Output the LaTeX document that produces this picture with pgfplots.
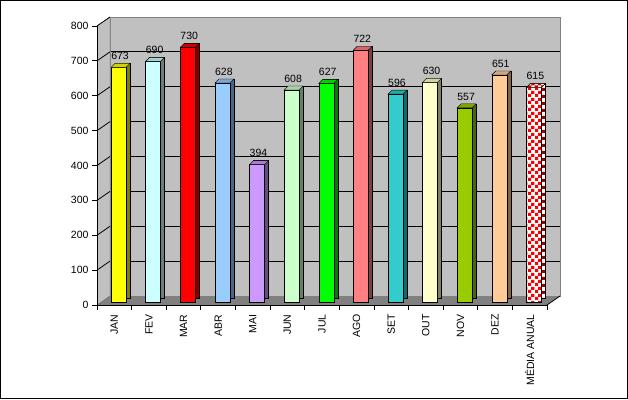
\documentclass[border=0pt]{standalone}
\usepackage{pgfplots}
\pgfplotsset{compat=1.18}
\usepackage{pgfplotstable}
\usepackage{fontspec}
\setmainfont{Liberation Sans}
\usetikzlibrary{patterns}

\pgfdeclarepatternformonly{checkers}{\pgfpointorigin}{\pgfqpoint{6.6pt}{6.6pt}}{\pgfqpoint{6.6pt}{6.6pt}}{%
\pgfpathrectangle{\pgfpointorigin}{\pgfqpoint{3.3pt}{3.3pt}}%
\pgfpathrectangle{\pgfqpoint{3.3pt}{3.3pt}}{\pgfqpoint{3.3pt}{3.3pt}}%
\pgfusepath{fill}}

\pgfdeclareplotmark{topface}{%
\pgfpathmoveto{\pgfqpoint{-7.5pt}{0pt}}%
\pgfpathlineto{\pgfqpoint{7.5pt}{0pt}}%
\pgfpathlineto{\pgfqpoint{11.5pt}{4pt}}%
\pgfpathlineto{\pgfqpoint{-3.5pt}{4pt}}%
\pgfpathclose
\pgfusepathqfillstroke}

\definecolor{c0}{HTML}{FFFF00}
\definecolor{c1}{HTML}{CCFFFF}
\definecolor{c2}{HTML}{FF0000}
\definecolor{c3}{HTML}{99CCFF}
\definecolor{c4}{HTML}{CC99FF}
\definecolor{c5}{HTML}{CCFFCC}
\definecolor{c6}{HTML}{00FF00}
\definecolor{c7}{HTML}{FF8080}
\definecolor{c8}{HTML}{33CCCC}
\definecolor{c9}{HTML}{FFFFCC}
\definecolor{c10}{HTML}{99CC00}
\definecolor{c11}{HTML}{FFCC99}
\definecolor{c12}{HTML}{FF0000}
\definecolor{wallgray}{HTML}{C0C0C0}
\definecolor{floorgray}{HTML}{808080}

\newcommand\chartfont{\fontsize{10.5}{12.5}\selectfont}

\pgfplotstableread{
x y
0 673
1 690
2 730
3 628
4 394
5 608
6 627
7 722
8 596
9 630
10 557
11 651
12 615
}\datatable

\begin{document}
\begin{tikzpicture}[x=1pt,y=1pt]
\useasboundingbox (0,0) rectangle (628,399);
% back wall
\begin{axis}[at={(110pt,103pt)}, anchor=south west, scale only axis,
  width=450pt, height=279pt, xmin=-0.5, xmax=12.5, ymin=0, ymax=800,
  axis background/.style={fill=wallgray},
  axis line style={draw=floorgray},
  xtick=\empty, ytick={0,100,...,800}, yticklabels={}, major tick length=0pt,
  ymajorgrids, grid style={black, line width=0.8pt}]
\addplot[draw=none] coordinates {(0,0)};
\end{axis}
% left wall and floor
\fill[wallgray] (97,94) -- (97,373) -- (110,382) -- (110,103) -- cycle;
\draw[floorgray] (97,373) -- (110,382) -- (110,103);
\fill[floorgray] (97,94) -- (547,94) -- (560,103) -- (110,103) -- cycle;
\foreach \v in {100,200,...,800}{
  \draw[black, line width=0.8pt] (97,{94+\v*0.34875}) -- (110,{103+\v*0.34875});
}
\draw[black!60] (97,94) -- (110,103);
\draw[black, line width=0.8pt] (547,94) -- (560,103);
% front axis with bars
\begin{axis}[at={(97pt,94pt)}, anchor=south west, scale only axis,
  width=450pt, height=279pt, xmin=-0.5, xmax=12.5, ymin=0, ymax=800, clip=false,
  axis lines*=left, axis line style={-, black, line width=0.8pt},
  ytick={0,100,...,800}, xtick={0,...,12},
  xticklabels={JAN,FEV,MAR,ABR,MAI,JUN,JUL,AGO,SET,OUT,NOV,DEZ,MÉDIA ANUAL},
  minor xtick={-0.5,0.5,...,12.5},
  tick align=outside, major tick length=5pt, minor tick length=5pt,
  major x tick style={draw=none}, tick style={black, line width=0.8pt},
  xticklabel style={rotate=90, anchor=east, font=\chartfont, xshift=-1pt},
  yticklabel style={font=\chartfont},
  /pgf/number format/assume math mode=true,
  /pgf/number format/1000 sep={}]
\pgfplotsinvokeforeach{0,...,11}{
  \addplot[ybar, bar width=15pt, bar shift=0pt, fill=c#1!50!black, draw=black, line width=0.4pt,
    xshift=8.2pt, yshift=7pt, restrict x to domain=#1:#1, forget plot] table[x=x,y=y]{\datatable};
  \addplot[ybar, bar width=15pt, bar shift=0pt, fill=c#1, draw=black, line width=0.4pt,
    xshift=4.2pt, yshift=3pt, restrict x to domain=#1:#1, forget plot] table[x=x,y=y]{\datatable};
  \addplot[only marks, mark=topface, mark options={fill=c#1!82!black, draw=black, line width=0.4pt},
    xshift=4.2pt, yshift=3pt, restrict x to domain=#1:#1, forget plot,
    nodes near coords, nodes near coords style={font=\chartfont, yshift=4pt, xshift=1.5pt}] table[x=x,y=y]{\datatable};
}
\addplot[ybar, bar width=15pt, bar shift=0pt, fill=white, draw=black, line width=0.4pt,
  postaction={pattern=checkers, pattern color=red!60!black},
  xshift=8.2pt, yshift=7pt, restrict x to domain=12:12, forget plot] table[x=x,y=y]{\datatable};
\addplot[ybar, bar width=15pt, bar shift=0pt, fill=white, draw=black, line width=0.4pt,
  postaction={pattern=checkers, pattern color=red},
  xshift=4.2pt, yshift=3pt, restrict x to domain=12:12, forget plot] table[x=x,y=y]{\datatable};
\addplot[only marks, mark=topface, mark options={fill=white, draw=black, line width=0.4pt},
  xshift=4.2pt, yshift=3pt, restrict x to domain=12:12, forget plot] table[x=x,y=y]{\datatable};
\addplot[only marks, mark=topface, mark options={pattern=checkers, pattern color=red!80!black, draw=black, line width=0.4pt},
  xshift=4.2pt, yshift=3pt, restrict x to domain=12:12, forget plot,
  nodes near coords, nodes near coords style={font=\chartfont, yshift=4pt, xshift=1.5pt}] table[x=x,y=y]{\datatable};
\end{axis}
\draw[black, line width=1pt] (0.5,0.5) rectangle (627.5,398.5);
\end{tikzpicture}
\end{document}
